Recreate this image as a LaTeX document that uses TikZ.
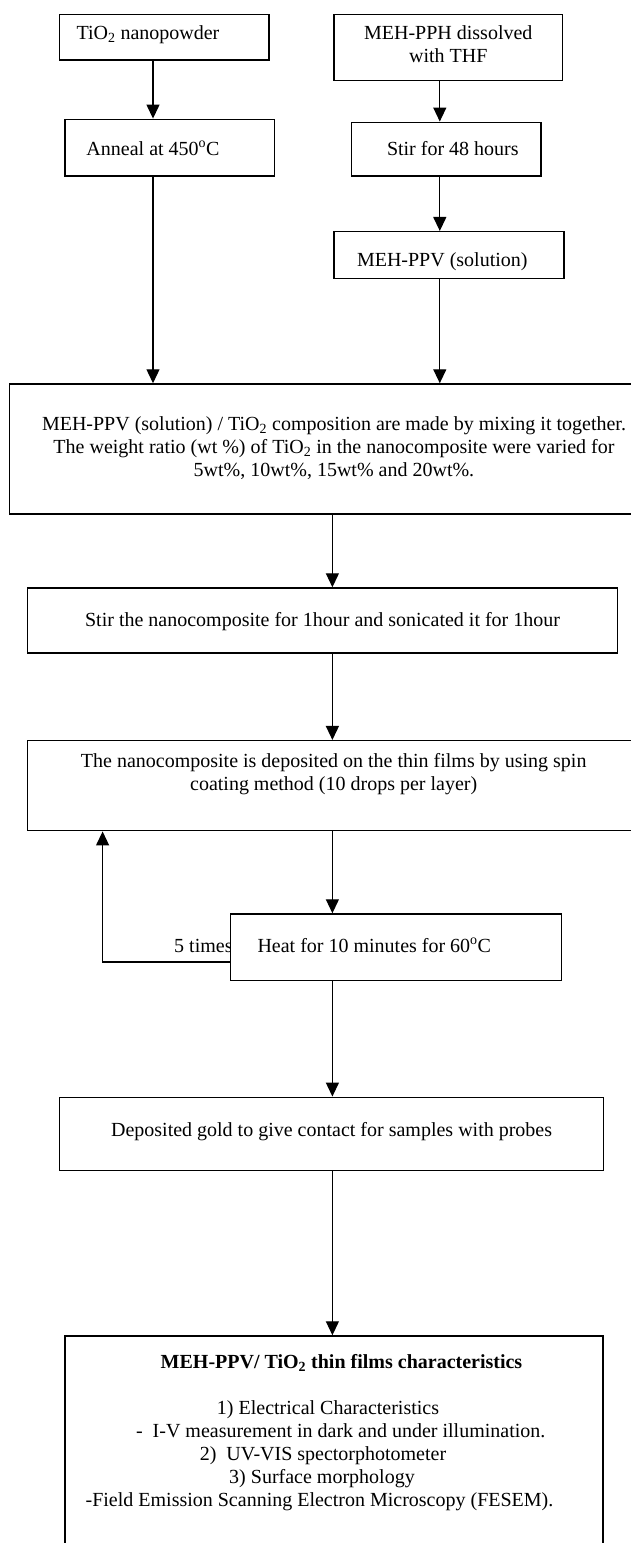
\documentclass[tikz,border=0pt]{standalone}
\usepackage{fontspec}
\setmainfont{Liberation Serif}
\usetikzlibrary{arrows.meta}
% box content: width, height, top gap, text
\newcommand{\bx}[4]{\parbox[c][#2][t]{#1}{\vspace*{#3}#4}}
\begin{document}
\begin{tikzpicture}[x=1pt,y=-1pt,
  every node/.style={font=\fontsize{20}{23}\selectfont},
  box/.style={draw,rectangle,line width=1.5pt,inner sep=0pt,fill=white},
  arr/.style={line width=1.3pt,-{Triangle[length=14pt,width=13pt]}}]
\useasboundingbox (0,0) rectangle (631,1543);
\clip (0,0) rectangle (631,1543);
\fill[white] (0,0) rectangle (631,1543);

\node[box] (tio2) at (164.2,37.15)
  {\bx{209.2pt}{45.7pt}{8.6pt}{\raggedright\hspace*{16.9pt}\strut TiO\textsubscript{2} nanopowder}};
\node[box] (meh) at (448.3,47.3)
  {\bx{228.6pt}{66pt}{8.9pt}{\centering\strut MEH-PPH dissolved\\ with THF}};
\node[box] (anneal) at (169.8,147.65)
  {\bx{209.2pt}{56.7pt}{19.6pt}{\raggedright\hspace*{21.3pt}\strut Anneal at 450\textsuperscript{o}C}};
\node[box] (stir48) at (446.25,149.15)
  {\bx{189.9pt}{53.7pt}{16.6pt}{\raggedright\hspace*{35.7pt}\strut Stir for 48 hours}};
\node[box] (mehsol) at (449.1,255)
  {\bx{230.2pt}{46.6pt}{18.2pt}{\raggedright\hspace*{23pt}\strut MEH-PPV (solution)}};
\node[box] (mix) at (334,449)
  {\bx{649pt}{130pt}{29.9pt}{\centering\strut MEH-PPV (solution) / TiO\textsubscript{2} composition are made by mixing it together.\\
   The weight ratio (wt \%) of TiO\textsubscript{2} in the nanocomposite were varied for\\
   5wt\%, 10wt\%, 15wt\% and 20wt\%.}};
\node[box] (stirnano) at (322.55,620.5)
  {\bx{590.3pt}{65pt}{21.9pt}{\centering\strut Stir the nanocomposite for 1hour and sonicated it for 1hour}};
\node[box] (deposit) at (333.7,785.7)
  {\bx{612.6pt}{90pt}{10.2pt}{\centering\strut The nanocomposite is deposited on the thin films by using spin\\
   coating method (10 drops per layer)}};
\node[anchor=base west,inner sep=0pt] (times) at (174,952) {5 times};
\node[box] (heat) at (396,947.35)
  {\bx{330.8pt}{66.7pt}{21.9pt}{\raggedright\hspace*{26.9pt}\strut Heat for 10 minutes for 60\textsuperscript{o}C}};
\node[box] (gold) at (331.6,1134)
  {\bx{544pt}{73.4pt}{22.6pt}{\centering\strut Deposited gold to give contact for samples with probes}};
\node[box] (final) at (334,1453)
  {\bx{537.6pt}{234pt}{15.9pt}{\centering
   \hspace*{15pt}\strut\textbf{MEH-PPV/ TiO\textsubscript{2} thin films characteristics}\\[23pt]
   \hspace*{-12pt}1) Electrical Characteristics\\
   \hspace*{13.4pt}-\ \ I-V measurement in dark and under illumination.\\
   \hspace*{-22pt}2)\ \ UV-VIS spectorphotometer\\
   \hspace*{-24pt}3) Surface morphology\\
   \hspace*{-29pt}-Field Emission Scanning Electron Microscopy (FESEM).}};

\coordinate (xL) at (153,0);
\coordinate (xR) at (439.8,0);
\coordinate (xC) at (332.4,0);
\coordinate (xB) at (102.6,0);
\coordinate (yB) at (0,962);

\draw[arr] (tio2.south -| xL) -- (anneal.north -| xL);
\draw[arr] (anneal.south -| xL) -- (mix.north -| xL);
\draw[arr] (meh.south -| xR) -- (stir48.north -| xR);
\draw[arr] (stir48.south -| xR) -- (mehsol.north -| xR);
\draw[arr] (mehsol.south -| xR) -- (mix.north -| xR);
\draw[arr] (mix.south -| xC) -- (stirnano.north -| xC);
\draw[arr] (stirnano.south -| xC) -- (deposit.north -| xC);
\draw[arr] (deposit.south -| xC) -- (heat.north -| xC);
\draw[arr] (heat.south -| xC) -- (gold.north -| xC);
\draw[arr] (gold.south -| xC) -- (final.north -| xC);
\draw[arr] (heat.west |- yB) -| (deposit.south -| xB);
\end{tikzpicture}
\end{document}
